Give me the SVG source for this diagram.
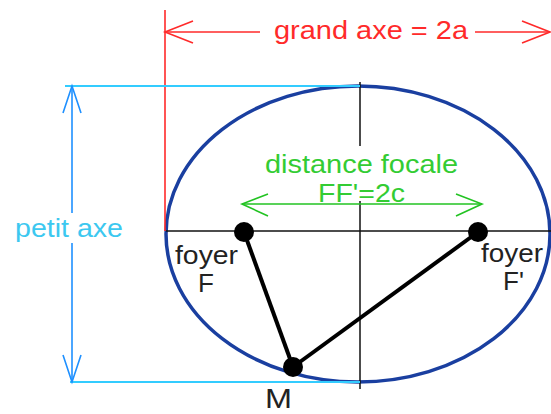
<svg xmlns="http://www.w3.org/2000/svg" width="551" height="414" viewBox="0 0 551 414">
<style>
text{font-family:"Liberation Sans",Arial,sans-serif}
.red{stroke:#ff2a2a;stroke-width:1.6;fill:none}
.cyl{stroke:#33ccff;stroke-width:2;fill:none}
.cyv{stroke:#1e90ff;stroke-width:1.6;fill:none}
.grn{stroke:#22c322;stroke-width:1.6;fill:none}
.ax{stroke:#111;stroke-width:1.5;fill:none}
.seg{stroke:#000;stroke-width:4;fill:none}
.pt{fill:#000}
.lbl{fill:#222;font-size:26px}
</style>
<rect width="551" height="414" fill="#fff"/>
<g id="ellipse">
<ellipse cx="358" cy="234" rx="192" ry="148" fill="none" stroke="#1a3fa0" stroke-width="3.5"/>
</g>
<g id="connectors">
<line class="ax" x1="166" y1="231" x2="551" y2="231"/>
<line class="ax" x1="360" y1="82" x2="360" y2="146"/>
<line class="ax" x1="360" y1="201" x2="360" y2="389"/>
<line class="red" x1="165" y1="10" x2="165" y2="231"/>
<line class="red" x1="165" y1="32" x2="260" y2="32"/>
<line class="red" x1="475" y1="32" x2="550" y2="32"/>
<polyline class="red" points="193,21 165,32 193,43"/>
<polyline class="red" points="522,21 550,32 522,43"/>
<line class="cyl" x1="65" y1="86" x2="360" y2="86"/>
<line class="cyl" x1="70" y1="382" x2="360" y2="382"/>
<line class="cyv" x1="72" y1="86" x2="72" y2="213"/>
<line class="cyv" x1="72" y1="243" x2="72" y2="382"/>
<polyline class="cyv" points="63,113 72,86 81,113"/>
<polyline class="cyv" points="63,355 72,382 81,355"/>
<line class="grn" x1="242" y1="204" x2="482" y2="204"/>
<polyline class="grn" points="268,194 242,204 268,216"/>
<polyline class="grn" points="456,194 482,204 456,216"/>
<line class="seg" x1="244" y1="232" x2="293" y2="367"/>
<line class="seg" x1="478" y1="232" x2="293" y2="367"/>
</g>
<g id="focusF"><circle class="pt" cx="244" cy="232" r="10"/></g>
<g id="focusF2"><circle class="pt" cx="478" cy="232" r="10"/></g>
<g id="pointM"><circle class="pt" cx="293" cy="367" r="10"/></g>
<g id="label-grand">
<rect x="266" y="14" width="206" height="34" fill="#fff"/>
<text x="274" y="39" font-size="26" fill="#ff2a2a" textLength="194" lengthAdjust="spacingAndGlyphs">grand axe = 2a</text>
</g>
<g id="label-petit">
<text x="15" y="237" font-size="25" fill="#3cc8f0" textLength="108" lengthAdjust="spacingAndGlyphs">petit axe</text>
</g>
<g id="label-focale">
<text x="265" y="173" font-size="25" fill="#33cc33" textLength="193" lengthAdjust="spacingAndGlyphs">distance focale</text>
<text x="318" y="202" font-size="25" fill="#33cc33" textLength="87" lengthAdjust="spacingAndGlyphs">FF'=2c</text>
</g>
<g id="label-F">
<text class="lbl" x="175" y="264" textLength="63" lengthAdjust="spacingAndGlyphs">foyer</text>
<text class="lbl" x="198" y="292">F</text>
</g>
<g id="label-F2">
<text class="lbl" x="481" y="262" textLength="62" lengthAdjust="spacingAndGlyphs">foyer</text>
<text class="lbl" x="503" y="290">F'</text>
</g>
<g id="label-M">
<text class="lbl" x="265" y="408" style="font-size:27px" textLength="27" lengthAdjust="spacingAndGlyphs">M</text>
</g>
</svg>
